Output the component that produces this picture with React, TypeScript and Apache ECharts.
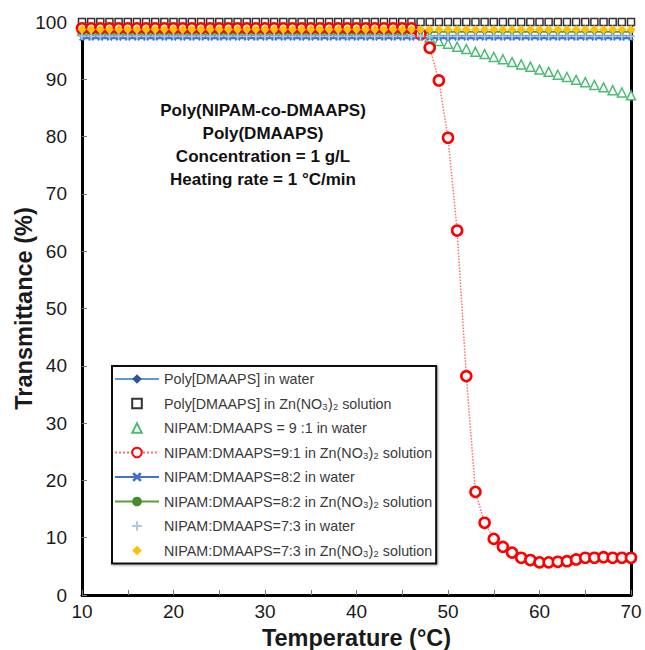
import React, { useEffect, useRef } from "react";
import * as echarts from "echarts";

const temps = [
  10, 11, 12, 13, 14, 15, 16, 17, 18, 19,
  20, 21, 22, 23, 24, 25, 26, 27, 28, 29,
  30, 31, 32, 33, 34, 35, 36, 37, 38, 39,
  40, 41, 42, 43, 44, 45, 46, 47, 48, 49,
  50, 51, 52, 53, 54, 55, 56, 57, 58, 59,
  60, 61, 62, 63, 64, 65, 66, 67, 68, 69,
  70,
];

const polyWater = [
  97.6, 97.6, 97.6, 97.6, 97.6, 97.6, 97.6, 97.6, 97.6, 97.6,
  97.6, 97.6, 97.6, 97.6, 97.6, 97.6, 97.6, 97.6, 97.6, 97.6,
  97.6, 97.6, 97.6, 97.6, 97.6, 97.6, 97.6, 97.6, 97.6, 97.6,
  97.6, 97.6, 97.6, 97.6, 97.6, 97.6, 97.6, 97.6, 97.6, 97.6,
  97.6, 97.6, 97.6, 97.6, 97.6, 97.6, 97.6, 97.6, 97.6, 97.6,
  97.6, 97.6, 97.6, 97.6, 97.6, 97.6, 97.6, 97.6, 97.6, 97.6,
  97.6,
];

const polyZn = [
  100, 100, 100, 100, 100, 100, 100, 100, 100, 100,
  100, 100, 100, 100, 100, 100, 100, 100, 100, 100,
  100, 100, 100, 100, 100, 100, 100, 100, 100, 100,
  100, 100, 100, 100, 100, 100, 100, 100, 100, 100,
  100, 100, 100, 100, 100, 100, 100, 100, 100, 100,
  100, 100, 100, 100, 100, 100, 100, 100, 100, 100,
  100,
];

const r91Water = [
  98.5, 98.5, 98.5, 98.5, 98.5, 98.5, 98.5, 98.5, 98.5, 98.5,
  98.5, 98.5, 98.5, 98.5, 98.5, 98.5, 98.5, 98.5, 98.5, 98.5,
  98.5, 98.5, 98.5, 98.5, 98.5, 98.5, 98.5, 98.5, 98.5, 98.5,
  98.5, 98.5, 98.5, 98.5, 98.5, 98.5, 98.3, 98.0, 97.3, 96.7,
  96.2, 95.7, 95.3, 94.8, 94.4, 93.9, 93.5, 93.0, 92.6, 92.2,
  91.7, 91.3, 90.8, 90.4, 89.9, 89.5, 89.0, 88.6, 88.1, 87.7,
  87.2,
];

const r91Zn = [
  98.9, 98.9, 98.9, 98.9, 98.9, 98.9, 98.9, 98.9, 98.9, 98.9,
  98.9, 98.9, 98.9, 98.9, 98.9, 98.9, 98.9, 98.9, 98.9, 98.9,
  98.9, 98.9, 98.9, 98.9, 98.9, 98.9, 98.9, 98.9, 98.9, 98.9,
  98.9, 98.9, 98.9, 98.9, 98.9, 98.9, 98.9, 97.9, 95.5, 89.8,
  79.8, 63.6, 38.2, 18.0, 12.6, 9.8, 8.4, 7.4, 6.5, 6.1,
  5.7, 5.7, 5.8, 5.9, 6.2, 6.5, 6.5, 6.6, 6.5, 6.5,
  6.5,
];

const r82Water = [
  97.2, 97.2, 97.2, 97.2, 97.2, 97.2, 97.2, 97.2, 97.2, 97.2,
  97.2, 97.2, 97.2, 97.2, 97.2, 97.2, 97.2, 97.2, 97.2, 97.2,
  97.2, 97.2, 97.2, 97.2, 97.2, 97.2, 97.2, 97.2, 97.2, 97.2,
  97.2, 97.2, 97.2, 97.2, 97.2, 97.2, 97.2, 97.2, 97.2, 97.2,
  97.2, 97.2, 97.2, 97.2, 97.2, 97.2, 97.2, 97.2, 97.2, 97.2,
  97.2, 97.2, 97.2, 97.2, 97.2, 97.2, 97.2, 97.2, 97.2, 97.2,
  97.2,
];

const r82Zn = [
  98.3, 98.3, 98.3, 98.3, 98.3, 98.3, 98.3, 98.3, 98.3, 98.3,
  98.3, 98.3, 98.3, 98.3, 98.3, 98.3, 98.3, 98.3, 98.3, 98.3,
  98.3, 98.3, 98.3, 98.3, 98.3, 98.3, 98.3, 98.3, 98.3, 98.3,
  98.3, 98.3, 98.3, 98.3, 98.3, 98.3, 98.3, 98.1, 98.2, 98.3,
  98.3, 98.3, 98.3, 98.3, 98.3, 98.3, 98.3, 98.3, 98.3, 98.3,
  98.3, 98.3, 98.3, 98.3, 98.3, 98.3, 98.3, 98.3, 98.3, 98.3,
  98.3,
];

const r73Water = [
  97.5, 97.5, 97.5, 97.5, 97.5, 97.5, 97.5, 97.5, 97.5, 97.5,
  97.5, 97.5, 97.5, 97.5, 97.5, 97.5, 97.5, 97.5, 97.5, 97.5,
  97.5, 97.5, 97.5, 97.5, 97.5, 97.5, 97.5, 97.5, 97.5, 97.5,
  97.5, 97.5, 97.5, 97.5, 97.5, 97.5, 97.5, 97.5, 97.5, 97.5,
  97.5, 97.5, 97.5, 97.5, 97.5, 97.5, 97.5, 97.5, 97.5, 97.5,
  97.5, 97.5, 97.5, 97.5, 97.5, 97.5, 97.5, 97.5, 97.5, 97.5,
  97.5,
];

const r73Zn = [
  98.7, 98.7, 98.7, 98.7, 98.7, 98.7, 98.7, 98.7, 98.7, 98.7,
  98.7, 98.7, 98.7, 98.7, 98.7, 98.7, 98.7, 98.7, 98.7, 98.7,
  98.7, 98.7, 98.7, 98.7, 98.7, 98.7, 98.7, 98.7, 98.7, 98.7,
  98.7, 98.7, 98.7, 98.7, 98.7, 98.7, 98.7, 98.7, 98.7, 98.7,
  98.7, 98.7, 98.7, 98.7, 98.7, 98.7, 98.7, 98.7, 98.7, 98.7,
  98.7, 98.7, 98.7, 98.7, 98.7, 98.7, 98.7, 98.7, 98.7, 98.7,
  98.7,
];

const seriesNames = [
  "Poly[DMAAPS] in water",
  "Poly[DMAAPS] in Zn(NO₃)₂ solution",
  "NIPAM:DMAAPS = 9 :1 in water",
  "NIPAM:DMAAPS=9:1 in Zn(NO₃)₂ solution",
  "NIPAM:DMAAPS=8:2 in water",
  "NIPAM:DMAAPS=8:2 in Zn(NO₃)₂ solution",
  "NIPAM:DMAAPS=7:3 in water",
  "NIPAM:DMAAPS=7:3 in Zn(NO₃)₂ solution",
];

const annotationLines = [
  "Poly(NIPAM-co-DMAAPS)",
  "Poly(DMAAPS)",
  "Concentration = 1 g/L",
  "Heating rate = 1 °C/min",
];

const xTicks = [10, 20, 30, 40, 50, 60, 70];

const pair = (ys: number[]) => temps.map((t, i) => [t, ys[i]]);

const CROSS = "path://M2,0L5,3L8,0L10,2L7,5L10,8L8,10L5,7L2,10L0,8L3,5L0,2Z";
const PLUS = "path://M4,0H6V4H10V6H6V10H4V6H0V4H4Z";
const noLine = { width: 0, opacity: 0 };

export default function App() {
  const ref = useRef<HTMLDivElement>(null);
  useEffect(() => {
    if (!ref.current) return;
    const chart = echarts.init(ref.current, undefined, { renderer: "svg" });
    const font = "Liberation Sans, Arial, sans-serif";
    chart.setOption({
      animation: false,
      backgroundColor: "#ffffff",
      textStyle: { fontFamily: font },
      grid: { left: 82, right: 14, top: 22, bottom: 55, containLabel: false, outerBoundsMode: "none" },
      xAxis: {
        type: "value",
        min: 10,
        max: 70,
        interval: 5,
        name: "Temperature (°C)",
        nameLocation: "middle",
        nameGap: 31,
        nameMoveOverlap: false,
        nameTextStyle: { fontSize: 23.5, fontWeight: "bold", color: "#1a1a1a", fontFamily: font },
        axisLine: { show: true, onZero: false, lineStyle: { color: "#000", width: 3 } },
        axisTick: { show: true, inside: true, length: 5, lineStyle: { color: "#777", width: 1 } },
        axisLabel: {
          fontSize: 19,
          color: "#1a1a1a",
          margin: 7,
          fontFamily: font,
          formatter: (v: number) => (xTicks.includes(v) ? String(v) : ""),
        },
        splitLine: { show: false },
      },
      yAxis: [
        {
          type: "value",
          min: 0,
          max: 100,
          interval: 10,
          name: "Transmittance (%)",
          nameLocation: "middle",
          nameGap: 46,
          nameMoveOverlap: false,
          nameTextStyle: { fontSize: 23.5, fontWeight: "bold", color: "#1a1a1a", fontFamily: font },
          axisLine: { show: true, onZero: false, lineStyle: { color: "#000", width: 3 } },
          axisTick: { show: true, inside: true, length: 5, lineStyle: { color: "#777", width: 1 } },
          axisLabel: { fontSize: 19, color: "#1a1a1a", margin: 15, fontFamily: font },
          splitLine: { show: false },
        },
        {
          type: "value",
          min: 0,
          max: 100,
          position: "right",
          axisLine: { show: true, onZero: false, lineStyle: { color: "#000", width: 3 } },
          axisTick: { show: false },
          axisLabel: { show: false },
          splitLine: { show: false },
        },
      ],
      legend: {
        orient: "vertical",
        left: 112,
        top: 366,
        itemWidth: 44,
        itemHeight: 12,
        itemGap: 10.5,
        padding: [6, 4, 6, 2],
        borderColor: "#111",
        borderWidth: 2,
        backgroundColor: "#fff",
        shadowColor: "rgba(0,0,0,0.35)",
        shadowBlur: 2,
        shadowOffsetX: 1,
        shadowOffsetY: 1,
        textStyle: { fontSize: 14.3, color: "#3a3a3a", fontFamily: font },
        data: seriesNames,
      },
      graphic: [
        {
          type: "text",
          left: 263 - 120,
          top: 99,
          style: {
            text: annotationLines.join("\n"),
            font: "bold 17px Liberation Sans, Arial, sans-serif",
            fill: "#111",
            textAlign: "center",
            lineHeight: 23,
            width: 240,
          },
        },
      ],
      series: [
        {
          name: seriesNames[0],
          type: "line",
          data: pair(polyWater),
          symbol: "diamond",
          symbolSize: 5,
          lineStyle: { color: "#5b9bd5", width: 2 },
          itemStyle: { color: "#2f5597" },
        },
        {
          name: seriesNames[1],
          type: "line",
          data: pair(polyZn),
          symbol: "rect",
          symbolSize: 7,
          lineStyle: noLine,
          itemStyle: { color: "#fff", borderColor: "#333", borderWidth: 1.5 },
        },
        {
          name: seriesNames[2],
          type: "line",
          data: pair(r91Water),
          symbol: "triangle",
          symbolSize: 9,
          lineStyle: noLine,
          itemStyle: { color: "#fff", borderColor: "#4dbb74", borderWidth: 1.5 },
        },
        {
          name: seriesNames[3],
          type: "line",
          data: pair(r91Zn),
          symbol: "circle",
          symbolSize: 10,
          lineStyle: { color: "#ff7070", width: 1.5, type: "dotted" },
          itemStyle: { color: "#fff", borderColor: "#ff0000", borderWidth: 2.6 },
        },
        {
          name: seriesNames[4],
          type: "line",
          data: pair(r82Water),
          symbol: CROSS,
          symbolSize: 6,
          lineStyle: { color: "#4472c4", width: 2.5 },
          itemStyle: { color: "#4472c4" },
        },
        {
          name: seriesNames[5],
          type: "line",
          data: pair(r82Zn),
          symbol: "circle",
          symbolSize: 5,
          lineStyle: { color: "#5a9e3a", width: 2 },
          itemStyle: { color: "#4a8a2c" },
        },
        {
          name: seriesNames[6],
          type: "line",
          data: pair(r73Water),
          symbol: PLUS,
          symbolSize: 8,
          lineStyle: noLine,
          itemStyle: { color: "#a9c6ea" },
        },
        {
          name: seriesNames[7],
          type: "line",
          data: pair(r73Zn),
          symbol: "diamond",
          symbolSize: 9,
          lineStyle: noLine,
          itemStyle: { color: "#ffc000" },
        },
      ],
    });
    return () => chart.dispose();
  }, []);
  return (
    <div
      ref={ref}
      style={{ position: "fixed", left: 0, top: 0, width: 645, height: 650 }}
    />
  );
}
